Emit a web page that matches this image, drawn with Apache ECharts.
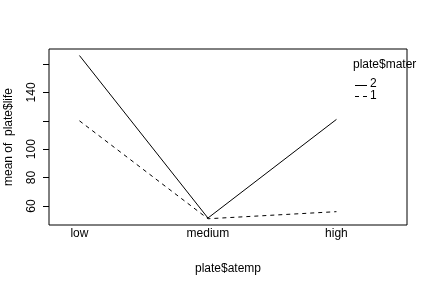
<!DOCTYPE html>
<html>
<head>
<meta charset="utf-8">
<script src="https://cdn.jsdelivr.net/npm/echarts@6/dist/echarts.min.js"></script>
<style>html,body{margin:0;padding:0;background:#fff;}#c{width:432px;height:288px;}</style>
</head>
<body>
<div id="c"></div>
<script>
var categories = ['low', 'medium', 'high'];
var seriesNames = ['2', '1'];
var mater2 = [166, 51.5, 121];
var mater1 = [120, 51, 56];
var yTicks = [60, 80, 100, 120, 140, 160];
var yLabels = [60, 80, 100, 140];
var legendTitle = 'plate$mater';

function pts(vals) { return vals.map(function (v, i) { return [i + 1, v]; }); }
var font = 'Liberation Sans, Arial, Helvetica, sans-serif';
var chart = echarts.init(document.getElementById('c'), null, {renderer: 'canvas'});
chart.setOption({
  animation: false,
  backgroundColor: '#fff',
  grid: {left: 49, right: 25, top: 49, bottom: 63, show: true, borderColor: '#000', borderWidth: 1,
         backgroundColor: 'transparent', containLabel: false, outerBoundsMode: 'none'},
  xAxis: {
    type: 'value', min: 0.763, max: 3.549,
    name: 'plate$atemp', nameLocation: 'middle', nameGap: 38,
    nameTextStyle: {color: '#000', fontSize: 12, fontFamily: font},
    axisLine: {show: false}, axisTick: {show: false}, splitLine: {show: false},
    axisLabel: {
      customValues: [1, 2, 3], color: '#000', fontSize: 12, fontFamily: font, margin: 3,
      formatter: function (v) { return categories[Math.round(v) - 1] || ''; }
    }
  },
  yAxis: {
    type: 'value', min: 46.6, max: 170.6,
    name: 'mean of  plate$life', nameLocation: 'middle', nameGap: 34,
    nameTextStyle: {color: '#000', fontSize: 12, fontFamily: font},
    axisLine: {show: false}, splitLine: {show: false},
    axisTick: {show: true, customValues: yTicks, length: 6, lineStyle: {color: '#000', width: 1}},
    axisLabel: {customValues: yLabels, rotate: 90, color: '#000', fontSize: 12, fontFamily: font, margin: 11}
  },
  graphic: [
    {type: 'text', left: 353, top: 59, z: 10, style: {text: legendTitle, fill: '#000', font: '12px ' + font}},
    {type: 'line', shape: {x1: 355, y1: 85.5, x2: 367, y2: 85.5}, style: {stroke: '#000', lineWidth: 1}},
    {type: 'text', left: 370, top: 78, style: {text: seriesNames[0], fill: '#000', font: '12px ' + font}},
    {type: 'line', shape: {x1: 355, y1: 96.5, x2: 367, y2: 96.5}, style: {stroke: '#000', lineWidth: 1, lineDash: [4, 4]}},
    {type: 'text', left: 370, top: 90, style: {text: seriesNames[1], fill: '#000', font: '12px ' + font}}
  ],
  series: [
    {name: seriesNames[0], type: 'line', data: pts(mater2), showSymbol: false, symbol: 'none',
     lineStyle: {color: '#000', width: 1, type: 'solid'}, itemStyle: {color: '#000'}},
    {name: seriesNames[1], type: 'line', data: pts(mater1), showSymbol: false, symbol: 'none',
     lineStyle: {color: '#000', width: 1, type: [4, 4]}, itemStyle: {color: '#000'}}
  ]
});
</script>
</body>
</html>
